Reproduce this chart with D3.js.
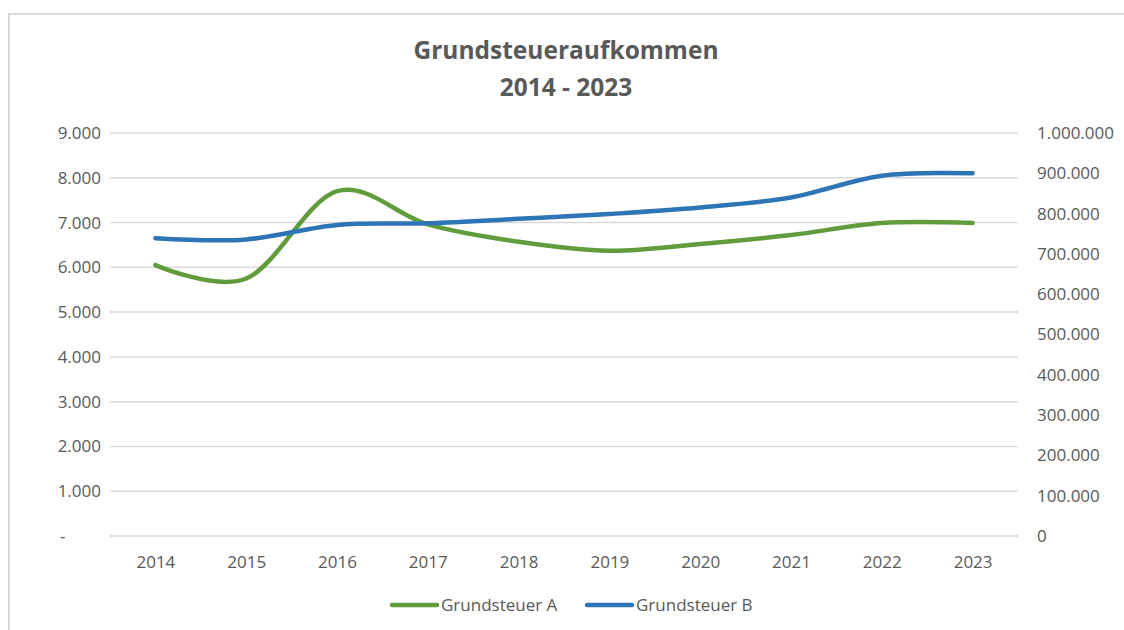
<!DOCTYPE html>
<html>
<head>
<meta charset="utf-8">
<script src="https://cdn.jsdelivr.net/npm/d3@7"></script>
<style>
  body { margin: 0; background: #fff; }
  text { font-family: "Open Sans", sans-serif; fill: #595959; }
</style>
</head>
<body>
<svg id="chart" width="1124" height="630"></svg>
<script>
// Data
const years = ["2014", "2015", "2016", "2017", "2018", "2019", "2020", "2021", "2022", "2023"];
const grundsteuerA = [6050, 5750, 7700, 6960, 6570, 6370, 6520, 6720, 6990, 6990];
const grundsteuerB = [739000, 736000, 772000, 776000, 787000, 799000, 815000, 840000, 894000, 900000];
const leftTicks = [0, 1000, 2000, 3000, 4000, 5000, 6000, 7000, 8000, 9000];
const rightTicks = [0, 100000, 200000, 300000, 400000, 500000, 600000, 700000, 800000, 900000, 1000000];
const seriesNames = ["Grundsteuer A", "Grundsteuer B"];
const titleLines = ["Grundsteueraufkommen", "2014 - 2023"];

const colorA = "#609c3c";
const colorB = "#2e75b6";

const svg = d3.select("#chart");
const plot = { left: 110, right: 1018, top: 133, bottom: 536 };

// German number format (thousands with dots)
const de = d3.formatLocale({ decimal: ",", thousands: ".", grouping: [3], currency: ["", " €"] });
const fmt = de.format(",d");

// chart frame
svg.append("rect")
  .attr("x", 9).attr("y", 14)
  .attr("width", 1130).attr("height", 630)
  .attr("fill", "none")
  .attr("stroke", "#d9d9d9")
  .attr("stroke-width", 2);

// scales
const x = d3.scalePoint()
  .domain(years)
  .range([plot.left, plot.right])
  .padding(0.5);

const yLeft = d3.scaleLinear()
  .domain([0, 9000])
  .range([plot.bottom, plot.top]);

const yRight = d3.scaleLinear()
  .domain([0, 1000000])
  .range([plot.bottom, plot.top]);

// gridlines
svg.append("g")
  .selectAll("line")
  .data(leftTicks)
  .join("line")
  .attr("x1", plot.left)
  .attr("x2", plot.right)
  .attr("y1", d => yLeft(d))
  .attr("y2", d => yLeft(d))
  .attr("stroke", "#d9d9d9")
  .attr("stroke-width", 1.5);

// axes
const leftAxis = svg.append("g")
  .attr("transform", `translate(${plot.left - 9},0)`)
  .call(d3.axisLeft(yLeft).tickValues(leftTicks).tickSize(0).tickPadding(0)
    .tickFormat(d => d === 0 ? "-" : fmt(d)));
leftAxis.selectAll(".tick text").filter(d => d === 0)
  .attr("text-anchor", "start")
  .attr("x", -41);

const rightAxis = svg.append("g")
  .attr("transform", `translate(${plot.right + 19},0)`)
  .call(d3.axisRight(yRight).tickValues(rightTicks).tickSize(0).tickPadding(0)
    .tickFormat(fmt));

const bottomAxis = svg.append("g")
  .attr("transform", `translate(0,${plot.bottom + 20})`)
  .call(d3.axisBottom(x).tickSize(0).tickPadding(0));

svg.selectAll(".domain").remove();
svg.selectAll(".tick text")
  .style("font-family", "'Open Sans', sans-serif")
  .style("font-size", "17px")
  .attr("fill", "#595959");

// lines (smoothed like the spreadsheet)
const lineA = d3.line()
  .x((d, i) => x(years[i]))
  .y(d => yLeft(d))
  .curve(d3.curveCatmullRom.alpha(0));

const lineB = d3.line()
  .x((d, i) => x(years[i]))
  .y(d => yRight(d))
  .curve(d3.curveCatmullRom.alpha(0));

svg.append("path")
  .datum(grundsteuerA)
  .attr("d", lineA)
  .attr("fill", "none")
  .attr("stroke", colorA)
  .attr("stroke-width", 4.5)
  .attr("stroke-linecap", "round");

svg.append("path")
  .datum(grundsteuerB)
  .attr("d", lineB)
  .attr("fill", "none")
  .attr("stroke", colorB)
  .attr("stroke-width", 4.5)
  .attr("stroke-linecap", "round");

// title
svg.append("text")
  .attr("x", 563)
  .attr("text-anchor", "middle")
  .style("font-size", "24.5px")
  .style("font-weight", "bold")
  .selectAll("tspan")
  .data(titleLines)
  .join("tspan")
  .attr("x", 566)
  .attr("y", (d, i) => 59 + i * 37)
  .text(d => d);

// legend
const legendX = [392, 587];
const legend = svg.append("g");
seriesNames.forEach((name, i) => {
  legend.append("line")
    .attr("x1", legendX[i]).attr("x2", legendX[i] + 45)
    .attr("y1", 605).attr("y2", 605)
    .attr("stroke", i === 0 ? colorA : colorB)
    .attr("stroke-width", 4.5)
    .attr("stroke-linecap", "round");
  legend.append("text")
    .attr("x", legendX[i] + 49)
    .attr("y", 611)
    .style("font-size", "17px")
    .text(name);
});
</script>
</body>
</html>
